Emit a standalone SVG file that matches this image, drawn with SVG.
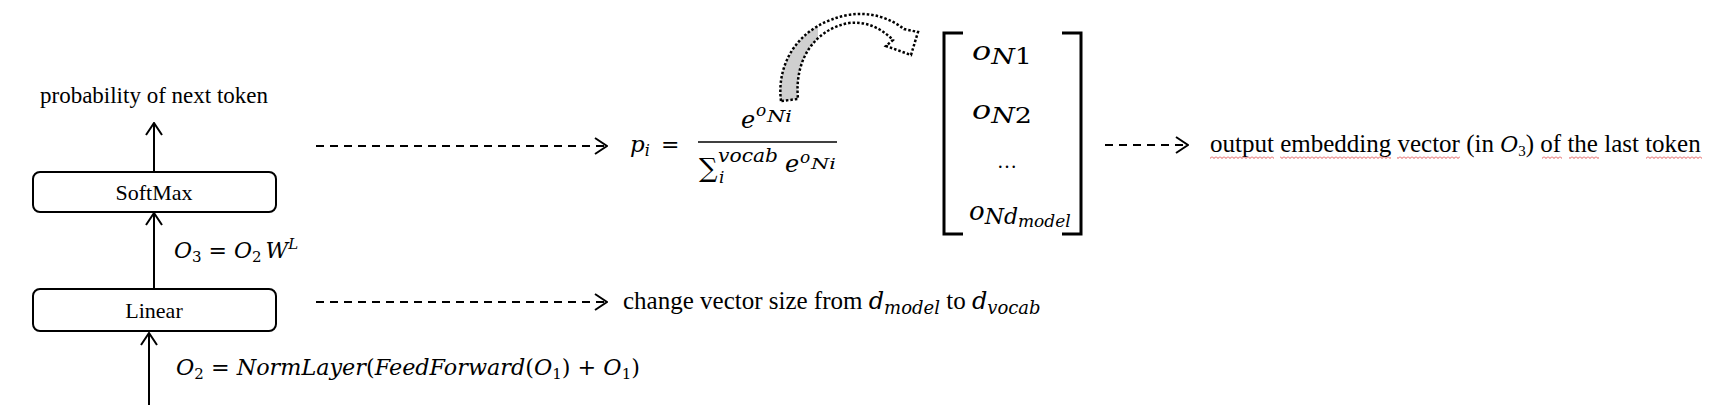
<svg xmlns="http://www.w3.org/2000/svg" width="1723" height="416" viewBox="0 0 1723 416">
<style>
.box{fill:#fff;stroke:#000;stroke-width:2}
.t{font-family:"Liberation Serif","Times New Roman",serif;fill:#000}
.m{font-family:"DejaVu Serif",serif;font-style:italic;fill:#000}
.u{font-style:normal}
.conn{stroke:#000;stroke-width:2;fill:none}
.dash{stroke-dasharray:8 6}
.br{stroke:#000;stroke-width:3;fill:none}
</style>
<defs>
<marker id="chev" viewBox="0 0 14 18" refX="13" refY="9" markerWidth="14" markerHeight="18" markerUnits="userSpaceOnUse" orient="auto">
<path d="M1,1 L13,9 L1,17" fill="none" stroke="#000" stroke-width="2" stroke-dasharray="none"/>
</marker>
<linearGradient id="tailfill" gradientUnits="userSpaceOnUse" x1="780" y1="0" x2="920" y2="0">
<stop offset="0" stop-color="#cfcfcf"/>
<stop offset="0.27" stop-color="#cfcfcf"/>
<stop offset="0.27" stop-color="#fff"/>
<stop offset="1" stop-color="#fff"/>
</linearGradient>
<pattern id="wavy" patternUnits="userSpaceOnUse" width="4" height="3">
<path d="M0,0.5 L2,2.5 L4,0.5" fill="none" stroke="#e05050" stroke-width="1"/>
</pattern>
</defs>

<g id="connectors">
<path class="conn" d="M154,172 L154,123" marker-end="url(#chev)"/>
<path class="conn" d="M154,289 L154,213" marker-end="url(#chev)"/>
<path class="conn" d="M149,405 L149,333" marker-end="url(#chev)"/>
<path class="conn dash" d="M316,146 L607,146" marker-end="url(#chev)"/>
<path class="conn dash" d="M316,302 L607,302" marker-end="url(#chev)"/>
<path class="conn dash" d="M1105,145 L1188,145" marker-end="url(#chev)"/>
<path id="curved-arrow" d="M781,101 C776,62 800,24 848,15 C872,11 891,19 904,29 L918,32 L911,55 L886,46 L893,40 C881,28 866,21 849,23 C816,29 794,58 798,99 Z" fill="url(#tailfill)" stroke="#000" stroke-width="2.5" stroke-dasharray="2.5 2"/>
</g>

<g id="label-prob">
<text class="t" x="154" y="103" font-size="23" text-anchor="middle">probability of next token</text>
</g>

<g id="node-softmax">
<rect class="box" x="33" y="172" width="243" height="40" rx="7"/>
<text class="t" x="154" y="200" font-size="22" text-anchor="middle">SoftMax</text>
</g>

<g id="node-linear">
<rect class="box" x="33" y="289" width="243" height="42" rx="7"/>
<text class="t" x="154" y="318" font-size="22" text-anchor="middle">Linear</text>
</g>

<g id="label-o3">
<text class="m" x="174" y="258" font-size="22">O<tspan class="u" font-size="15" dy="4">3</tspan><tspan class="u" dy="-4"> = </tspan>O<tspan class="u" font-size="15" dy="4">2</tspan><tspan dx="4" dy="-4">W</tspan><tspan font-size="15" dy="-9">L</tspan></text>
</g>

<g id="label-o2">
<text class="m" x="176" y="375" font-size="22.3">O<tspan class="u" font-size="15" dy="4">2</tspan><tspan class="u" dy="-4"> = </tspan>NormLayer<tspan class="u">(</tspan>FeedForward<tspan class="u">(</tspan>O<tspan class="u" font-size="15" dy="4">1</tspan><tspan class="u" dy="-4">) + </tspan>O<tspan class="u" font-size="15" dy="4">1</tspan><tspan class="u" dy="-4">)</tspan></text>
</g>

<g id="formula-softmax">
<text class="m" x="630" y="152" font-size="23">p<tspan font-size="16" dy="4">i</tspan></text>
<text class="m u" x="661" y="152" font-size="22">=</text>
<line x1="698" y1="142" x2="837" y2="142" stroke="#000" stroke-width="1.5"/>
<text class="m" x="741" y="128" font-size="24">e</text>
<text class="m" x="756" y="116" font-size="17">o</text>
<text class="m" x="767" y="122" font-size="16" textLength="25" lengthAdjust="spacingAndGlyphs">Ni</text>
<text class="m u" x="699" y="177" font-size="26">∑</text>
<text class="m" x="718" y="162" font-size="18" textLength="60" lengthAdjust="spacingAndGlyphs">vocab</text>
<text class="m" x="719" y="183" font-size="17">i</text>
<text class="m" x="785" y="172" font-size="24">e</text>
<text class="m" x="800" y="163" font-size="17">o</text>
<text class="m" x="811" y="169" font-size="15" textLength="25" lengthAdjust="spacingAndGlyphs">Ni</text>
</g>

<g id="matrix">
<path class="br" d="M963,33 L944,33 L944,234 L963,234"/>
<path class="br" d="M1062,33 L1081,33 L1081,234 L1062,234"/>
<text class="m" x="972" y="60" font-size="26" textLength="60" lengthAdjust="spacingAndGlyphs">o<tspan font-size="22" dy="4">N</tspan><tspan class="u" font-size="22">1</tspan></text>
<text class="m" x="972" y="119" font-size="26" textLength="60" lengthAdjust="spacingAndGlyphs">o<tspan font-size="22" dy="4">N</tspan><tspan class="u" font-size="22">2</tspan></text>
<text class="t" x="1007" y="168" font-size="20" text-anchor="middle">…</text>
<text class="m" x="969" y="220" font-size="26">o<tspan font-size="22" dy="4">N</tspan><tspan font-size="22">d</tspan><tspan font-size="17" dy="3">model</tspan></text>
</g>

<g id="label-linear">
<text class="t" x="623" y="309" font-size="25">change vector size from <tspan class="m" font-size="24">d</tspan><tspan class="m" font-size="18" dy="5">model</tspan><tspan dy="-5"> to </tspan><tspan class="m" font-size="24">d</tspan><tspan class="m" font-size="18" dy="5">vocab</tspan></text>
</g>

<g id="label-output">
<text class="t" x="1210" y="152" font-size="25">output embedding vector (in <tspan class="m" font-size="22">O</tspan><tspan font-size="15" dy="4">3</tspan><tspan dy="-4">) of the last token</tspan></text>
<rect x="1210" y="156" width="64" height="3" fill="url(#wavy)"/>
<rect x="1280" y="156" width="111" height="3" fill="url(#wavy)"/>
<rect x="1397" y="156" width="63" height="3" fill="url(#wavy)"/>
<rect x="1542" y="156" width="20" height="3" fill="url(#wavy)"/>
<rect x="1569" y="156" width="30" height="3" fill="url(#wavy)"/>
<rect x="1646" y="156" width="56" height="3" fill="url(#wavy)"/>
</g>
</svg>
